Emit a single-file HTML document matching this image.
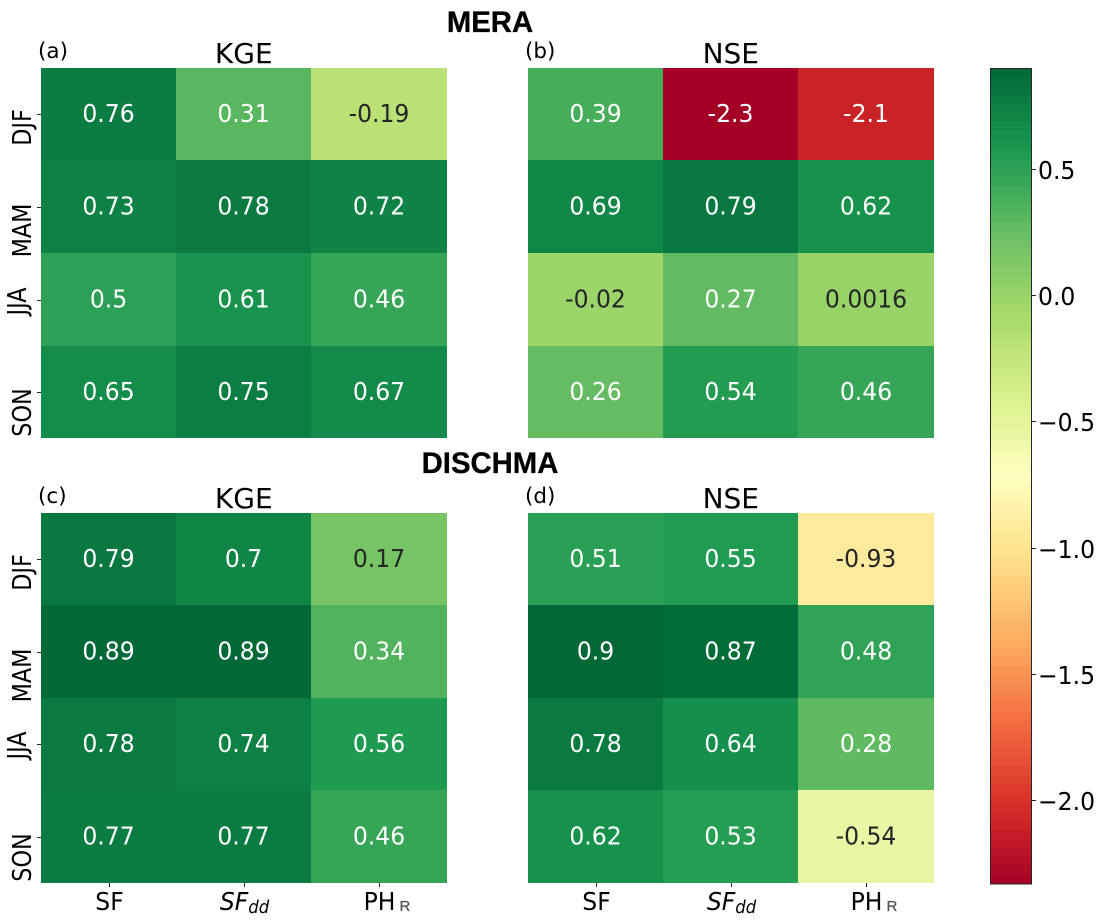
<!DOCTYPE html>
<html lang="en">
<head>
<meta charset="utf-8">
<title>MERA and DISCHMA seasonal skill heatmaps</title>
<style>
html,body{margin:0;padding:0;background:#fff;}
svg{display:block;}
text{font-family:"DejaVu Sans","Liberation Sans",sans-serif;fill:#000;}
.heading{font-family:"Liberation Sans",Arial,sans-serif;font-weight:bold;font-size:29.3px;text-anchor:middle;stroke:#000;stroke-width:.3px;}
.title{font-size:28px;text-anchor:middle;}
.tag{font-size:21.5px;}
.tick{font-size:23.5px;}
.cell-value{font-size:23.5px;text-anchor:middle;}
.sub-r{font-family:"Liberation Sans",Arial,sans-serif;font-size:15px;fill:#555;stroke:#555;stroke-width:.3px;}
</style>
</head>
<body>
<svg id="fig" xmlns="http://www.w3.org/2000/svg" width="1104" height="924" viewBox="0 0 1104 924">
  <text class="heading" x="490" y="32">MERA</text>
  <text class="heading" x="490" y="473">DISCHMA</text>
</svg>
<script>
// ---- chart data ----
const seasons = ['DJF', 'MAM', 'JJA', 'SON'];
const products = ['SF', 'SFdd', 'PHR'];
const kgeMera = [
  [0.76, 0.31, -0.19],
  [0.73, 0.78, 0.72],
  [0.5, 0.61, 0.46],
  [0.65, 0.75, 0.67]
];
const nseMera = [
  [0.39, -2.33, -2.1],
  [0.69, 0.79, 0.62],
  [-0.02, 0.27, 0.0016],
  [0.26, 0.54, 0.46]
];
const kgeDischma = [
  [0.79, 0.7, 0.17],
  [0.89, 0.89, 0.34],
  [0.78, 0.74, 0.56],
  [0.77, 0.77, 0.46]
];
const nseDischma = [
  [0.51, 0.55, -0.93],
  [0.9, 0.87, 0.48],
  [0.78, 0.64, 0.28],
  [0.62, 0.53, -0.54]
];
const colorTicks = [0.5, 0, -0.5, -1, -1.5, -2];
const colorMin = -2.33;
const colorMax = 0.9;
const colorBandCount = 90;
const rdYlGn = ['#a50026', '#d73027', '#f46d43', '#fdae61', '#fee08b', '#ffffbf', '#d9ef8b', '#a6d96a', '#66bd63', '#1a9850', '#006837'];

// ---- helpers ----
const NS = 'http://www.w3.org/2000/svg';
const fig = document.getElementById('fig');
const stretch = ' scale(1,1.05)';
function make(tag, attrs, parent) {
  const node = document.createElementNS(NS, tag);
  for (const key in attrs) node.setAttribute(key, attrs[key]);
  (parent || fig).appendChild(node);
  return node;
}
function hexToRgb(hex) {
  return [1, 3, 5].map(i => parseInt(hex.substr(i, 2), 16));
}
function colorRgb(v) {
  const t = Math.max(0, Math.min(1, (v - colorMin) / (colorMax - colorMin))) * (rdYlGn.length - 1);
  const i = Math.min(rdYlGn.length - 2, Math.floor(t));
  const f = t - i;
  const a = hexToRgb(rdYlGn[i]);
  const b = hexToRgb(rdYlGn[i + 1]);
  return a.map((c, k) => Math.round(c + (b[k] - c) * f));
}
function rgbCss(rgb) {
  return 'rgb(' + rgb.join(',') + ')';
}
function luminance(rgb) {
  const c = rgb.map(x => {
    const s = x / 255;
    return s <= 0.03928 ? s / 12.92 : Math.pow((s + 0.055) / 1.055, 2.4);
  });
  return 0.2126 * c[0] + 0.7152 * c[1] + 0.0722 * c[2];
}
function bandScale(start, end, count) {
  return i => Math.round(start + (end - start) * i / count);
}
function format2g(v) {
  return String(parseFloat(v.toPrecision(2)));
}
function yLabelShift(season) {
  if (season === 'DJF') return 13;
  if (season === 'MAM') return 23;
  if (season === 'JJA') return 1;
  return 20;
}

// ---- heatmap panels ----
function drawPanel(opts) {
  const group = make('g', {});
  
  
  const xAt = bandScale(opts.left, opts.right, products.length);
  const yAt = bandScale(opts.top, opts.bottom, seasons.length);

  opts.values.forEach((row, r) => {
    row.forEach((value, c) => {
      const rgb = colorRgb(value);
      const x0 = xAt(c), x1 = xAt(c + 1), y0 = yAt(r), y1 = yAt(r + 1);
      const cell = make('rect', {x: x0, y: y0, width: x1 - x0, height: y1 - y0, fill: rgbCss(rgb), 'shape-rendering': 'crispEdges'}, group);
      
      
      const txt = make('text', {class: 'cell-value', transform: 'translate(' + (x0 + x1) / 2 + ',' + ((y0 + y1) / 2 + 8) + ')' + stretch}, group);
      
      
      txt.style.fill = luminance(rgb) > 0.408 ? '#262626' : '#ffffff';
      txt.textContent = format2g(value);
    });
  });

  const title = make('text', {class: 'title', x: (opts.left + opts.right) / 2, y: Math.round(opts.top) - 5}, group);
  
  
  title.textContent = opts.title;

  const tag = make('text', {class: 'tag', x: opts.left - 3, y: Math.round(opts.top) - 10}, group);
  
  
  tag.textContent = opts.tag;

  if (opts.showY) {
    seasons.forEach((s, r) => {
      const cy = Math.round((yAt(r) + yAt(r + 1)) / 2) + 0.5;
      const tick = make('line', {x1: opts.left - 4, x2: opts.left, y1: cy, y2: cy, stroke: '#262626', 'stroke-width': 1}, group);
      
      
      const baseX = s === 'JJA' ? 26 : 31;
      const lab = make('text', {class: 'tick', 'text-anchor': 'middle', transform: 'translate(' + baseX + ',' + (cy + yLabelShift(s)) + ') rotate(-90) scale(.95,1.08)'}, group);
      
      
      lab.textContent = s;
    });
  }

  if (opts.showX) {
    products.forEach((p, c) => {
      const cx = Math.round((xAt(c) + xAt(c + 1)) / 2) + 0.5;
      const tick = make('line', {x1: cx, x2: cx, y1: 883, y2: 887, stroke: '#262626', 'stroke-width': 1}, group);
      
      
      const lab = make('text', {class: 'tick', 'text-anchor': 'middle', transform: 'translate(' + cx + ',910)' + stretch}, group);
      
      
      if (p === 'SFdd') {
        const a = make('tspan', {'font-style': 'italic'}, lab);
        a.textContent = 'SF';
        const b = make('tspan', {'font-style': 'italic', 'font-size': '16.5px', dy: 3}, lab);
        b.textContent = 'dd';
      } else if (p === 'PHR') {
        lab.textContent = 'PH';
        const sub = make('text', {class: 'sub-r', x: cx + 20, y: 911}, group);
        
        
        sub.textContent = 'R';
      } else {
        lab.textContent = p;
      }
    });
  }
}

drawPanel({id: 'a', tag: '(a)', title: 'KGE', values: kgeMera, left: 41, right: 446.6, top: 67.9, bottom: 438.2, showY: true, showX: false});
drawPanel({id: 'b', tag: '(b)', title: 'NSE', values: nseMera, left: 528, right: 933.6, top: 67.9, bottom: 438.2, showY: false, showX: false});
drawPanel({id: 'c', tag: '(c)', title: 'KGE', values: kgeDischma, left: 41, right: 446.6, top: 512.8, bottom: 883, showY: true, showX: true});
drawPanel({id: 'd', tag: '(d)', title: 'NSE', values: nseDischma, left: 528, right: 933.6, top: 512.8, bottom: 883, showY: false, showX: true});

// ---- colorbar ----
const cbLeft = 990, cbRight = 1032, cbTop = 68, cbBottom = 884;
function cbY(v) {
  return cbBottom - (v - colorMin) / (colorMax - colorMin) * (cbBottom - cbTop);
}
const cb = make('g', {});


for (let i = 0; i < colorBandCount; i++) {
  const v0 = colorMin + (colorMax - colorMin) * i / colorBandCount;
  const v1 = colorMin + (colorMax - colorMin) * (i + 1) / colorBandCount;
  const yTop = Math.round(cbY(v1));
  const yBot = Math.round(cbY(v0));
  const band = make('rect', {x: cbLeft, y: yTop, width: cbRight - cbLeft, height: yBot - yTop, fill: rgbCss(colorRgb((v0 + v1) / 2)), 'shape-rendering': 'crispEdges'}, cb);
  
  
}
const outline = make('rect', {x: cbLeft + 0.5, y: cbTop + 0.5, width: cbRight - cbLeft - 1, height: cbBottom - cbTop - 0.5, fill: 'none', stroke: '#262626', 'stroke-width': 1}, cb);


colorTicks.forEach(v => {
  const y = Math.floor(cbY(v)) + 0.5;
  const tick = make('line', {x1: cbRight, x2: cbRight + 4, y1: y, y2: y, stroke: '#262626', 'stroke-width': 1}, cb);
  
  
  const lab = make('text', {class: 'tick', transform: 'translate(1038,' + (y + 9.5) + ')' + stretch}, cb);
  
  
  lab.textContent = (v < 0 ? '\u2212' : '') + Math.abs(v).toFixed(1);
});
</script>
</body>
</html>
